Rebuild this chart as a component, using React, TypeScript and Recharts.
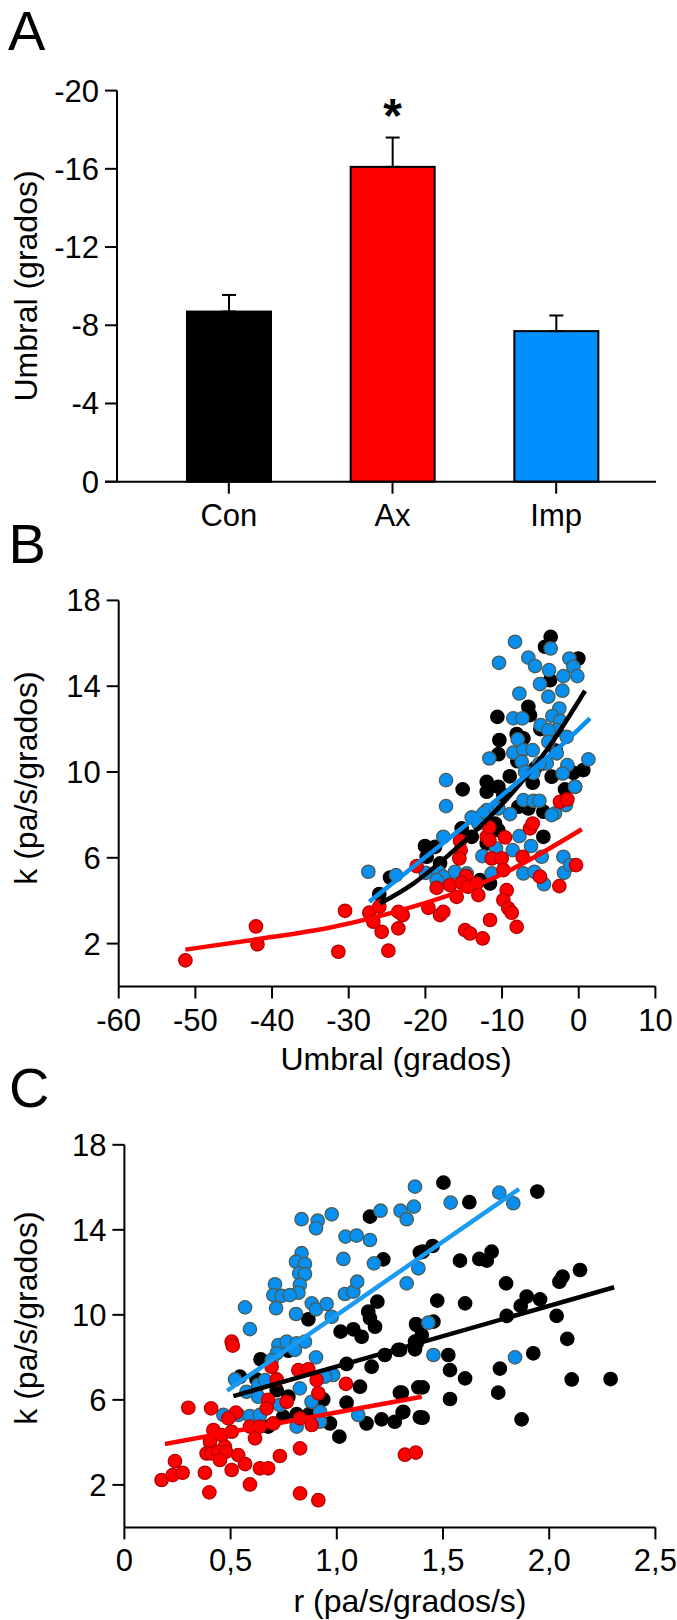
import {
  Bar,
  BarChart,
  ErrorBar,
  LabelList,
  Scatter,
  ScatterChart,
  XAxis,
  YAxis,
} from 'recharts'

// ---- panel A: umbral por grupo ----
const A_GROUPS = ['Con', 'Ax', 'Imp']
const A_MEANS = [-8.7, -16.1, -7.7]
const A_SEM = [0.85, 1.5, 0.8]
const A_SIG = ['', '*', '']
const A_TICKS = [-20, -16, -12, -8, -4, 0]

// ---- panel B: k vs umbral ----
const B_CON: [number, number][] = [
  [-3.66, 16.3], [-4.4, 15.84], [-0.05, 15.29], [-6.57, 13.04], [-6.35, 12.65],
  [-10.61, 12.57], [-10.35, 11.49], [-10.48, 10.83], [-8.09, 11.77], [-7.22, 11.57],
  [-5.7, 10.17], [-4.61, 10.4], [-3.53, 9.78], [-0.7, 9.96], [0.6, 10.09],
  [-12.0, 9.54], [-12.0, 9.08], [-15.14, 9.19], [-10.48, 9.31], [-9.83, 8.92],
  [-0.48, 9.31], [-1.79, 9.19], [-7.87, 8.38], [-6.57, 8.3], [-4.61, 8.15],
  [-15.27, 7.37], [-13.96, 6.98], [-10.92, 7.6], [-10.48, 7.29], [-20.05, 6.55],
  [-18.74, 6.51], [-19.83, 6.05], [-12.0, 6.67], [-4.61, 6.98], [-24.61, 5.08],
  [-26.01, 4.31], [-11.57, 4.8], [-18.09, 5.74], [-12.87, 4.96], [-3.74, 14.28],
  [-5.0, 12.0], [-8.0, 10.5], [-3.0, 11.0], [-6.0, 9.5], [-9.0, 9.8],
]
const B_IMP: [number, number][] = [
  [-8.31, 16.07], [-10.4, 15.09], [-6.57, 15.33], [-5.7, 14.94], [-3.66, 15.76],
  [-3.87, 14.75], [-2.0, 14.47], [-1.22, 15.29], [-0.7, 14.91], [-0.18, 14.47],
  [-5.05, 14.1], [-7.74, 13.66], [-3.96, 13.51], [-2.13, 13.79], [-2.53, 12.96],
  [-3.44, 12.61], [-2.44, 12.39], [-8.53, 12.5], [-7.35, 12.5], [-2.87, 11.95],
  [-1.57, 11.64], [-4.96, 12.19], [-3.96, 11.95], [-7.96, 11.52], [-3.96, 11.41],
  [-8.53, 10.9], [-7.22, 11.02], [-6.0, 11.02], [-2.87, 10.87], [-11.66, 10.63],
  [-7.44, 10.48], [-4.18, 10.4], [-5.13, 10.4], [-1.48, 10.32], [1.26, 10.59],
  [-2.09, 9.93], [-7.0, 10.01], [-5.92, 9.96], [-0.48, 9.31], [-7.22, 8.69],
  [-5.92, 8.66], [-5.13, 8.66], [-1.66, 8.46], [-3.09, 8.07], [-3.53, 7.99],
  [-10.48, 8.3], [-8.96, 8.04], [-12.0, 8.22], [-12.44, 8.07], [-13.96, 7.88],
  [-13.09, 7.6], [-17.31, 9.62], [-17.31, 8.41], [-17.66, 6.98], [-7.74, 7.01],
  [-6.22, 6.55], [-8.61, 6.36], [-12.57, 6.08], [-10.79, 6.44], [-4.83, 6.05],
  [-7.22, 5.27], [-5.79, 5.35], [-2.0, 6.05], [-1.92, 5.3], [-1.13, 5.66],
  [-4.53, 4.77], [-27.44, 5.35], [-23.83, 5.19], [-19.96, 5.3], [-18.31, 5.35],
  [-17.66, 5.12], [-16.14, 5.35], [-14.61, 5.27], [-18.53, 4.96], [-11.35, 5.27],
]
const B_AX: [number, number][] = [
  [-51.3, 1.22], [-42.1, 2.8], [-41.9, 1.97], [-30.48, 3.53], [-31.35, 1.62],
  [-24.83, 1.67], [-27.31, 3.44], [-26.01, 3.72], [-26.79, 3.02], [-25.7, 2.55],
  [-23.53, 3.48], [-22.96, 3.33], [-23.53, 2.71], [-21.14, 5.61], [-19.61, 3.67],
  [-18.09, 3.33], [-17.66, 3.48], [-18.53, 4.6], [-16.79, 4.73], [-15.92, 4.18],
  [-15.48, 6.79], [-15.4, 6.36], [-15.57, 5.97], [-14.7, 5.15], [-15.27, 4.84],
  [-14.4, 4.65], [-13.31, 4.8], [-13.09, 4.26], [-12.0, 6.98], [-11.66, 7.42],
  [-11.66, 6.83], [-11.35, 5.97], [-10.05, 5.97], [-9.61, 6.95], [-9.83, 5.43],
  [-9.4, 4.49], [-9.83, 4.03], [-9.18, 3.64], [-8.74, 3.44], [-8.09, 2.78],
  [-11.57, 3.1], [-14.83, 2.63], [-14.18, 2.47], [-12.53, 2.24], [-6.35, 7.37],
  [-6.0, 7.6], [-7.31, 6.05], [-5.05, 5.12], [-2.53, 4.68], [-2.44, 8.61],
  [-1.48, 8.72], [-0.35, 5.66],
]
// curvas ajustadas
const B_CON_FIT: [number, number][] = [
  [-25.92, 3.87], [-21.57, 4.8], [-17.22, 6.05], [-12.87, 7.45], [-8.53, 9.08], [-4.18, 11.02], [0.82, 13.79],
]
const B_IMP_FIT: [number, number][] = [
  [-27.31, 3.95], [-19.4, 6.2], [-12.87, 8.07], [-6.35, 10.01], [-2.0, 11.33], [1.47, 12.5],
]
const B_AX_FIT: [number, number][] = [
  [-51.3, 1.72], [-42.0, 2.2], [-32.4, 2.75], [-21.6, 3.72], [-10.7, 5.12], [0.4, 7.33],
]
const B_X_TICKS = [-60, -50, -40, -30, -20, -10, 0, 10]
const K_TICKS = [2, 6, 10, 14, 18]

// ---- panel C: k vs r ----
const C_CON: [number, number][] = [
  [1.156, 14.62], [1.219, 12.61], [1.391, 12.93], [0.866, 9.79], [1.148, 10.15],
  [1.191, 10.62], [1.156, 9.84], [1.018, 9.21], [1.078, 9.32], [1.117, 8.97],
  [1.18, 9.44], [1.376, 9.52], [0.772, 8.31], [0.641, 7.91], [0.544, 7.09],
  [0.622, 6.96], [1.046, 7.69], [1.164, 7.56], [1.226, 8.11], [1.289, 8.35],
  [1.376, 8.66], [1.109, 6.62], [1.297, 6.34], [1.384, 6.59], [0.936, 6.02],
  [1.046, 5.87], [0.717, 6.46], [0.772, 6.15], [0.748, 5.21], [0.677, 4.74],
  [0.811, 5.33], [0.87, 5.33], [0.968, 4.89], [1.14, 4.89], [1.211, 5.08],
  [1.273, 4.97], [1.313, 5.44], [1.391, 5.18], [1.012, 4.27], [1.502, 16.22],
  [1.624, 15.3], [1.944, 15.8], [1.404, 12.97], [1.451, 13.24], [1.58, 12.55],
  [1.671, 12.63], [1.706, 12.55], [1.729, 12.97], [1.797, 11.48], [2.048, 11.56],
  [2.063, 11.8], [2.145, 12.11], [1.473, 10.67], [1.604, 10.54], [1.894, 10.86],
  [1.866, 10.42], [1.957, 10.73], [1.8, 9.95], [2.035, 9.95], [2.085, 8.87],
  [1.373, 9.57], [1.455, 9.68], [1.4, 9.05], [1.368, 8.74], [1.368, 8.38],
  [1.298, 8.35], [1.525, 8.11], [1.533, 7.4], [1.604, 7.01], [1.768, 7.47],
  [1.925, 8.19], [2.106, 6.96], [2.289, 6.98], [1.404, 6.59], [1.306, 6.34],
  [1.533, 6.04], [1.76, 6.34], [1.31, 5.41], [1.404, 5.16], [1.87, 5.08],
]
const C_IMP: [number, number][] = [
  [1.368, 16.03], [0.834, 14.5], [0.91, 14.43], [0.902, 14.07], [0.976, 14.73],
  [1.206, 14.9], [1.3, 14.9], [1.329, 14.5], [1.363, 15.09], [1.041, 13.68],
  [1.093, 13.73], [1.156, 13.52], [1.031, 12.63], [1.175, 12.42], [0.834, 12.9],
  [0.808, 12.5], [0.85, 12.39], [0.823, 11.95], [0.85, 11.92], [0.709, 11.44],
  [0.826, 11.41], [0.819, 11.04], [0.701, 10.93], [0.74, 10.89], [0.779, 10.93],
  [0.714, 10.31], [0.568, 10.35], [0.591, 9.33], [0.808, 10.04], [0.882, 10.54],
  [0.902, 10.26], [0.952, 10.51], [0.976, 9.91], [1.038, 10.98], [1.078, 11.09],
  [1.096, 11.56], [1.329, 11.48], [1.384, 12.19], [0.725, 8.58], [0.764, 8.74],
  [0.811, 8.66], [0.85, 8.74], [0.803, 8.35], [0.902, 8.0], [0.717, 8.19],
  [0.693, 7.87], [0.521, 6.96], [0.575, 6.38], [0.63, 6.7], [0.662, 6.93],
  [0.63, 6.15], [0.826, 6.54], [0.881, 5.91], [0.983, 7.17], [0.944, 7.09],
  [0.732, 5.76], [0.466, 5.29], [0.536, 5.29], [0.591, 5.24], [0.638, 5.29],
  [0.921, 5.44], [0.921, 4.97], [1.101, 5.29], [0.811, 4.74], [1.536, 15.28],
  [1.765, 15.75], [1.831, 15.25], [1.431, 9.63], [1.455, 8.11], [1.839, 8.0],
]
const C_AX: [number, number][] = [
  [0.505, 8.74], [0.51, 8.55], [0.301, 5.63], [0.408, 5.6], [0.525, 5.4],
  [0.489, 5.13], [0.693, 7.56], [0.819, 7.4], [0.866, 7.44], [0.905, 6.93],
  [0.913, 6.31], [1.043, 6.75], [0.717, 6.96], [0.677, 6.0], [0.764, 5.91],
  [0.67, 5.6], [0.419, 4.58], [0.458, 4.34], [0.505, 4.5], [0.403, 4.03],
  [0.473, 3.8], [0.387, 3.48], [0.411, 3.48], [0.442, 3.56], [0.478, 3.56],
  [0.45, 3.17], [0.536, 3.4], [0.568, 2.98], [0.505, 2.7], [0.615, 4.19],
  [0.591, 4.74], [0.638, 4.74], [0.701, 4.89], [0.827, 5.13], [0.882, 4.82],
  [0.732, 3.36], [0.827, 3.72], [0.238, 3.12], [0.175, 2.23], [0.227, 2.46],
  [0.274, 2.57], [0.379, 2.57], [0.638, 2.78], [0.677, 2.78], [0.591, 2.02],
  [0.4, 1.65], [0.827, 1.6], [0.913, 1.28], [1.321, 3.42], [1.372, 3.52],
]
const C_CON_FIT: [number, number][] = [[0.513, 6.18], [2.306, 11.3]]
const C_IMP_FIT: [number, number][] = [[0.484, 6.43], [1.858, 15.92]]
const C_AX_FIT: [number, number][] = [[0.191, 3.92], [1.4, 6.15]]
const C_X_TICKS = [0, 0.5, 1, 1.5, 2, 2.5]

const BLACK = '#000000'
const RED = '#ff0000'
const BLUE = '#0890f0'
const FONT = "Arial, 'Liberation Sans', Helvetica, sans-serif"

const tickStyle = { fontSize: 31, fill: '#000', fontFamily: FONT }
const axisLine = { stroke: '#000', strokeWidth: 2 }

const pts = (arr: [number, number][]) => arr.map(([x, y]) => ({ x, y }))

const barData = A_GROUPS.map((name, i) => ({
  name,
  value: A_MEANS[i],
  err: [A_SEM[i], 0],
  sig: A_SIG[i],
}))
const barFill = [BLACK, RED, '#008fff']

const dot = (fill: string, stroke: string) => (p: any) => (
  <circle cx={p.cx} cy={p.cy} r={6.7} fill={fill} stroke={stroke} strokeWidth={1.3} />
)
const noDot = () => <g />

const fmtComma = (v: number) => (v === 0 ? '0' : v.toFixed(1).replace('.', ','))

function PanelA() {
  return (
    <BarChart
      width={677}
      height={540}
      data={barData}
      margin={{ top: 90.6, right: 21, bottom: 8.3, left: 0 }}
    >
      <XAxis
        dataKey="name"
        tick={tickStyle}
        tickSize={12}
        tickMargin={10}
        height={50}
        axisLine={axisLine}
        tickLine={axisLine}
        padding={{ left: 30, right: 18 }}
      />
      <YAxis
        type="number"
        domain={[-20, 0]}
        ticks={A_TICKS}
        reversed
        width={117}
        tick={tickStyle}
        tickSize={12}
        tickMargin={6}
        axisLine={axisLine}
        tickLine={axisLine}
      />
      <Bar
        dataKey="value"
        barSize={84}
        stroke="#000"
        strokeWidth={2}
        isAnimationActive={false}
        shape={(p: any) => (
          <rect
            x={p.x}
            y={Math.min(p.y, p.y + p.height)}
            width={p.width}
            height={Math.abs(p.height)}
            fill={barFill[p.index]}
            stroke="#000"
            strokeWidth={2}
          />
        )}
      >
        <ErrorBar dataKey="err" direction="y" width={7} stroke="#000" strokeWidth={2} />
        <LabelList
          dataKey="sig"
          content={(p: any) =>
            p.value ? (
              <text
                x={p.x + p.width / 2}
                y={Math.min(p.y, p.y + p.height) - 35}
                textAnchor="middle"
                fontSize={48}
                fontWeight="bold"
                fontFamily={FONT}
                fill="#000"
              >
                {p.value}
              </text>
            ) : null
          }
        />
      </Bar>
    </BarChart>
  )
}

function PanelB() {
  return (
    <ScatterChart width={677} height={560} margin={{ top: 70.4, right: 21.6, bottom: 3.5, left: 0 }}>
      <XAxis
        type="number"
        dataKey="x"
        domain={[-60, 10]}
        ticks={B_X_TICKS}
        height={100}
        tick={tickStyle}
        tickSize={12}
        tickMargin={10}
        axisLine={axisLine}
        tickLine={axisLine}
      />
      <YAxis
        type="number"
        dataKey="y"
        domain={[0, 18]}
        ticks={K_TICKS}
        width={118.7}
        tick={tickStyle}
        tickSize={12}
        tickMargin={6}
        axisLine={axisLine}
        tickLine={axisLine}
      />
      <Scatter data={pts(B_CON)} shape={dot(BLACK, '#000')} isAnimationActive={false} />
      <Scatter data={pts(B_IMP)} shape={dot(BLUE, '#4b5d56')} isAnimationActive={false} />
      <Scatter data={pts(B_AX)} shape={dot(RED, '#b80000')} isAnimationActive={false} />
      <Scatter
        data={pts(B_CON_FIT)}
        line={{ stroke: BLACK, strokeWidth: 4.5 }}
        lineJointType="monotoneX"
        shape={noDot}
        isAnimationActive={false}
      />
      <Scatter
        data={pts(B_IMP_FIT)}
        line={{ stroke: BLUE, strokeWidth: 4.5 }}
        lineJointType="monotoneX"
        shape={noDot}
        isAnimationActive={false}
      />
      <Scatter
        data={pts(B_AX_FIT)}
        line={{ stroke: RED, strokeWidth: 4.5 }}
        lineJointType="monotoneX"
        shape={noDot}
        isAnimationActive={false}
      />
    </ScatterChart>
  )
}

function PanelC() {
  return (
    <ScatterChart width={677} height={530} margin={{ top: 54.8, right: 21.6, bottom: 2.6, left: 0 }}>
      <XAxis
        type="number"
        dataKey="x"
        domain={[0, 2.5]}
        ticks={C_X_TICKS}
        tickFormatter={fmtComma}
        height={90}
        tick={tickStyle}
        tickSize={12}
        tickMargin={10}
        axisLine={axisLine}
        tickLine={axisLine}
      />
      <YAxis
        type="number"
        dataKey="y"
        domain={[0, 18]}
        ticks={K_TICKS}
        width={124.4}
        tick={tickStyle}
        tickSize={12}
        tickMargin={6}
        axisLine={axisLine}
        tickLine={axisLine}
      />
      <Scatter data={pts(C_CON)} shape={dot(BLACK, '#000')} isAnimationActive={false} />
      <Scatter data={pts(C_IMP)} shape={dot(BLUE, '#4b5d56')} isAnimationActive={false} />
      <Scatter data={pts(C_AX)} shape={dot(RED, '#b80000')} isAnimationActive={false} />
      <Scatter
        data={pts(C_CON_FIT)}
        line={{ stroke: BLACK, strokeWidth: 4.5 }}
        shape={noDot}
        isAnimationActive={false}
      />
      <Scatter
        data={pts(C_IMP_FIT)}
        line={{ stroke: '#1a9af0', strokeWidth: 4.5 }}
        shape={noDot}
        isAnimationActive={false}
      />
      <Scatter
        data={pts(C_AX_FIT)}
        line={{ stroke: RED, strokeWidth: 4.5 }}
        shape={noDot}
        isAnimationActive={false}
      />
    </ScatterChart>
  )
}

// panel letters, axis titles
function Overlay() {
  const t = { fontFamily: FONT, fill: '#000' }
  const vTitle = (label: string, cx: number, cy: number) => (
    <text x={cx} y={cy} transform={`rotate(-90 ${cx} ${cy})`} textAnchor="middle" fontSize={32} {...t}>
      {label}
    </text>
  )
  return (
    <svg width={677} height={1620} style={{ position: 'absolute', left: 0, top: 0, pointerEvents: 'none' }}>
      <text x={8} y={50} fontSize={56} {...t}>A</text>
      <text x={8.6} y={563} fontSize={56} {...t}>B</text>
      <text x={9} y={1107} fontSize={56} {...t}>C</text>
      <line x1={105} x2={118} y1={481.7} y2={481.7} stroke="#000" strokeWidth={2} />
      {vTitle('Umbral (grados)', 36.5, 286)}
      {vTitle('k (pa/s/grados)', 36.5, 778)}
      {vTitle('k (pa/s/grados)', 36.5, 1318)}
      <text x={396} y={1070} textAnchor="middle" fontSize={32} {...t}>Umbral (grados)</text>
      <text x={410} y={1612} textAnchor="middle" fontSize={32} {...t}>r (pa/s/grados/s)</text>
    </svg>
  )
}

export default function App() {
  return (
    <div style={{ position: 'absolute', left: 0, top: 0, width: 677, height: 1620, background: '#fff', overflow: 'hidden' }}>
      <div style={{ position: 'absolute', left: 0, top: 0 }}>
        <PanelA />
      </div>
      <div style={{ position: 'absolute', left: 0, top: 530 }}>
        <PanelB />
      </div>
      <div style={{ position: 'absolute', left: 0, top: 1090 }}>
        <PanelC />
      </div>
      <Overlay />
    </div>
  )
}
